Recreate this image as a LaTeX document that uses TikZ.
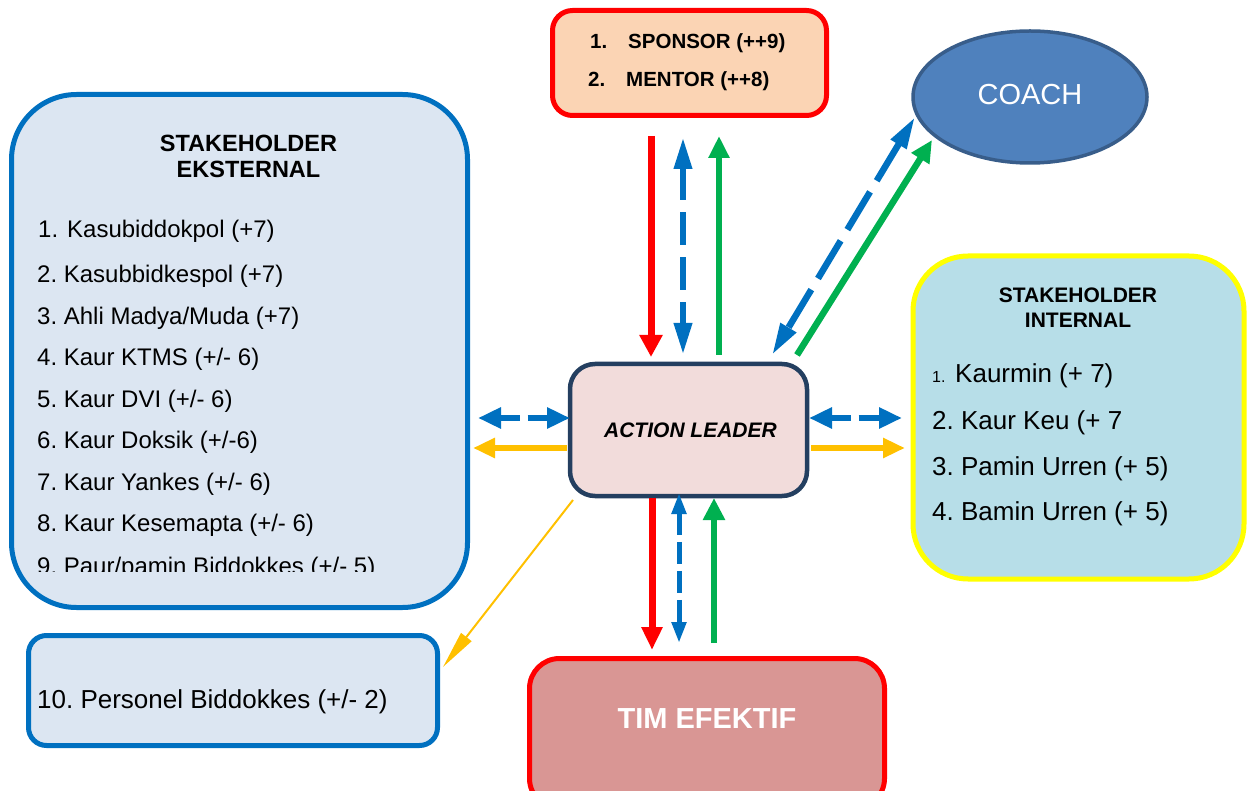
\documentclass[tikz,border=0pt]{standalone}
\usepackage{fontspec}
\setmainfont{Liberation Sans}
\usetikzlibrary{arrows.meta,shapes.geometric}
\frenchspacing
\definecolor{cred}{HTML}{FF0000}
\definecolor{cblue}{HTML}{0070C0}
\definecolor{cgreen}{HTML}{00B050}
\definecolor{cyell}{HTML}{FFC000}
\definecolor{peach}{HTML}{FBD4B4}
\definecolor{ekfill}{HTML}{DCE6F2}
\definecolor{infill}{HTML}{B7DEE8}
\definecolor{inborder}{HTML}{FFFF00}
\definecolor{alfill}{HTML}{F2DCDB}
\definecolor{alborder}{HTML}{243F60}
\definecolor{timfill}{HTML}{D99694}
\definecolor{coachfill}{HTML}{4F81BD}
\definecolor{coachborder}{HTML}{385D8A}
\begin{document}
\begin{tikzpicture}[x=1pt,y=-1pt,
  rbox/.style={draw, rectangle, inner sep=0pt},
  item/.style={anchor=base west, inner sep=0pt, font=\fontsize{24}{28}\selectfont},
  iitem/.style={anchor=base west, inner sep=0pt, font=\fontsize{26}{30}\selectfont},
  sitem/.style={anchor=base west, inner sep=0pt, font=\fontsize{20.5}{24}\selectfont\bfseries},
  ctitle/.style={anchor=base, inner sep=0pt},
  redarr/.style={draw=cred, line width=7pt, -{Triangle[length=22pt,width=22pt]}},
  greenarr/.style={draw=cgreen, line width=6.5pt, -{Triangle[length=22pt,width=20pt]}},
  bluedd/.style={draw=cblue, line width=6.5pt, dash pattern=on 33pt off 12pt,
     {Triangle[length=32pt,width=17pt]}-{Triangle[length=32pt,width=17pt]}},
  bluehz/.style={draw=cblue, line width=6.5pt, dash pattern=on 20pt off 8pt,
     {Triangle[length=23pt,width=20pt]}-{Triangle[length=23pt,width=20pt]}},
  yellarr/.style={draw=cyell, line width=6.5pt, -{Triangle[length=22pt,width=19pt]}}
]
\useasboundingbox (0,0) rectangle (1253,791);

% ---------- boxes ----------
\node[rbox, draw=cred, line width=5pt, fill=peach, rounded corners=20pt,
      minimum width=274pt, minimum height=105pt] (sponsor) at (689.5,63) {};
\node[ellipse, draw=coachborder, line width=3.5pt, fill=coachfill,
      minimum width=234pt, minimum height=132pt, inner sep=0pt] (coach) at (1030,97) {};
\node[rbox, draw=cblue, line width=5pt, fill=ekfill, rounded corners=65pt,
      minimum width=456pt, minimum height=513pt] (ekst) at (239.5,351) {};
\node[rbox, draw=cblue, line width=5pt, fill=ekfill, rounded corners=18pt,
      minimum width=409pt, minimum height=110pt] (pers) at (233,690.5) {};
\node[rbox, draw=alborder, line width=4.5pt, fill=alfill, rounded corners=25pt,
      minimum width=237pt, minimum height=132pt] (al) at (688.5,430) {};
\node[rbox, draw=inborder, line width=5pt, fill=infill, rounded corners=55pt,
      minimum width=331pt, minimum height=323pt] (inter) at (1078.5,417.5) {};
\node[rbox, draw=cred, line width=5pt, fill=timfill, rounded corners=30pt,
      minimum width=355pt, minimum height=150pt] (tim) at (707,733.5) {};

% ---------- texts ----------
\node[sitem] (sp1n) at (590,49) {1.};
\node[sitem] (sp1) at (628,49) {SPONSOR (++9)};
\node[sitem] (sp2n) at (588,87) {2.};
\node[sitem] (sp2) at (626,87) {MENTOR (++8)};

\node[ctitle, text=white, font=\fontsize{29}{33}\selectfont] (coacht) at (1030,105) {COACH};

\node[ctitle, font=\fontsize{23.5}{27}\selectfont\bfseries] (ekt1) at (248.5,151.7) {STAKEHOLDER};
\node[ctitle, font=\fontsize{23.5}{27}\selectfont\bfseries] (ekt2) at (248.5,177.7) {EKSTERNAL};
\node[item] (e1n) at (38,238) {1.};
\node[item] (e1) at (67,238) {Kasubiddokpol (+7)};
\node[item] (e2) at (37,283) {2. Kasubbidkespol (+7)};
\node[item] (e3) at (37,325) {3. Ahli Madya/Muda (+7)};
\node[item] (e4) at (37,366) {4. Kaur KTMS (+/- 6)};
\node[item] (e5) at (37,407) {5. Kaur DVI (+/- 6)};
\node[item] (e6) at (37,448) {6. Kaur Doksik (+/-6)};
\node[item] (e7) at (37,490) {7. Kaur Yankes (+/- 6)};
\node[item] (e8) at (37,531) {8. Kaur Kesemapta (+/- 6)};
\begin{scope}
  \clip (14,300) rectangle (466,571);
  \node[item] (e9) at (37,574) {9. Paur/pamin Biddokkes (+/- 5)};
\end{scope}

\node[iitem] (p10) at (37,708) {10. Personel Biddokkes (+/- 2)};

\node[ctitle, font=\fontsize{21}{25}\selectfont\bfseries\itshape] (alt) at (690.5,438) {ACTION LEADER};

\node[ctitle, font=\fontsize{21}{25}\selectfont\bfseries] (int1) at (1078,303) {STAKEHOLDER};
\node[ctitle, font=\fontsize{21}{25}\selectfont\bfseries] (int2) at (1078,328) {INTERNAL};
\node[anchor=base west, inner sep=0pt, font=\fontsize{16}{18}\selectfont] (i1n) at (932,383) {1.};
\node[iitem] (i1) at (955,383) {Kaurmin (+ 7)};
\node[iitem] (i2) at (932,429) {2. Kaur Keu (+ 7};
\node[iitem] (i3) at (932,475) {3. Pamin Urren (+ 5)};
\node[iitem] (i4) at (932,520) {4. Bamin Urren (+ 5)};

\node[ctitle, text=white, font=\fontsize{29}{33}\selectfont\bfseries] (timt) at (707,728) {TIM EFEKTIF};

% ---------- connector end points ----------
\coordinate (tr1) at (651,136);  \coordinate (tr2) at (651,357);
\coordinate (tb1) at (683,137);  \coordinate (tb2) at (683,355);
\coordinate (tg1) at (719,355);  \coordinate (tg2) at (719,136);
\coordinate (db1) at (915,117);  \coordinate (db2) at (772,355);
\coordinate (dg1) at (797,355);  \coordinate (dg2) at (932,140);
\coordinate (lb1) at (478,418);  \coordinate (lb2) at (570,418);
\coordinate (ly1) at (567,448);  \coordinate (ly2) at (473,448);
\coordinate (rb1) at (809,418);  \coordinate (rb2) at (902,418);
\coordinate (ry1) at (811,448);  \coordinate (ry2) at (905,448);
\coordinate (br1) at (652,498);  \coordinate (br2) at (652,650);
\coordinate (bb1) at (679,493);  \coordinate (bb2) at (679,643);
\coordinate (bg1) at (714,643);  \coordinate (bg2) at (714,498);
\coordinate (ty1) at (573,500);  \coordinate (ty2) at (443,667);

% ---------- connectors ----------
\draw[redarr] (tr1) -- (tr2);
\draw[bluedd] (tb1) -- (tb2);
\draw[greenarr] (tg1) -- (tg2);

\draw[bluedd, dash pattern=on 44pt off 13pt] (db1) -- (db2);
\draw[greenarr] (dg1) -- (dg2);

\draw[bluehz] (lb1) -- (lb2);
\draw[yellarr] (ly1) -- (ly2);
\draw[bluehz] (rb1) -- (rb2);
\draw[yellarr] (ry1) -- (ry2);

\draw[redarr, -{Triangle[length=23pt,width=20pt]}] (br1) -- (br2);
\draw[draw=cblue, line width=5pt, dash pattern=on 22pt off 7pt,
      {Triangle[length=21pt,width=14pt]}-{Triangle[length=21pt,width=14pt]}] (bb1) -- (bb2);
\draw[greenarr, -{Triangle[length=22pt,width=21pt]}] (bg1) -- (bg2);

\draw[draw=cyell, line width=2pt, -{Triangle[length=38pt,width=13pt]}] (ty1) -- (ty2);
\end{tikzpicture}
\end{document}
